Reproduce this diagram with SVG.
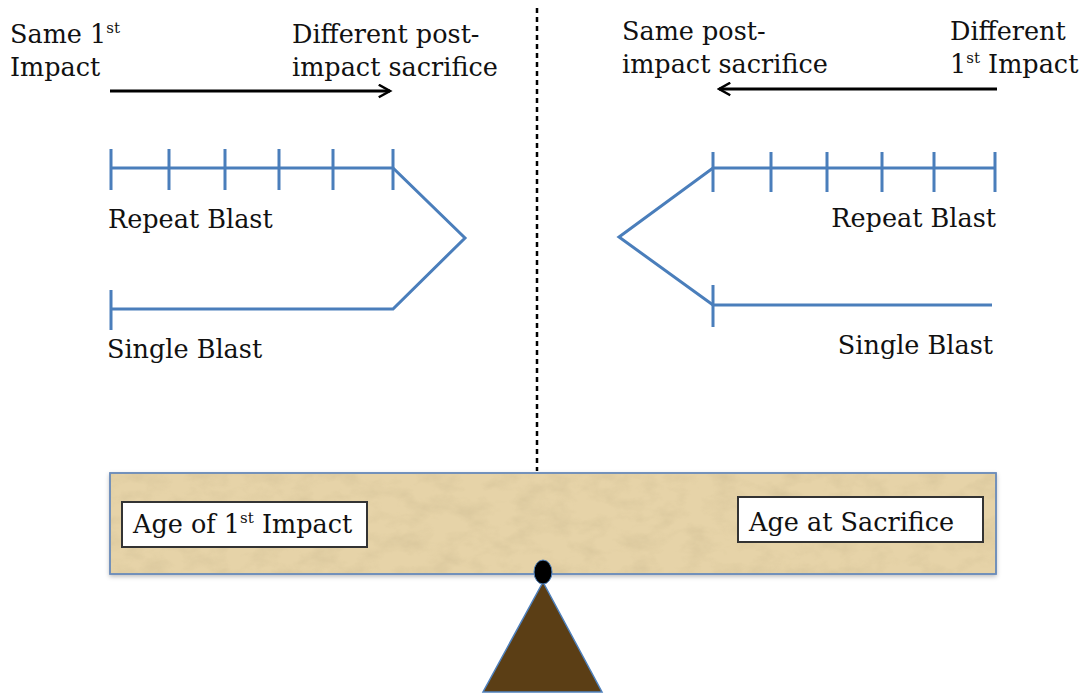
<svg xmlns="http://www.w3.org/2000/svg" width="1087" height="698" viewBox="0 0 1087 698">
  <defs>
    <style>
      .txt { font-family: "DejaVu Serif", "Liberation Serif", serif; font-size: 25.5px; fill: #111; }
      .sup { font-size: 15px; }
      .blast { fill: none; stroke: #4a7ebb; stroke-width: 3; stroke-linejoin: miter; }
      .arrow { stroke: #000; stroke-width: 3; fill: none; }
      .label { fill: #fff; stroke: #333; stroke-width: 2; }
    </style>
    <marker id="head" viewBox="0 0 12 12" refX="10" refY="6" markerWidth="5" markerHeight="5" markerUnits="strokeWidth" orient="auto">
      <path d="M1,1 L10,6 L1,11" fill="none" stroke="#000" stroke-width="2"/>
    </marker>
    <filter id="parchment" x="0" y="0" width="100%" height="100%">
      <feTurbulence type="fractalNoise" baseFrequency="0.035 0.06" numOctaves="4" seed="7" result="noise"/>
      <feColorMatrix in="noise" type="matrix"
        values="0 0 0 0 0.55
                0 0 0 0 0.45
                0 0 0 0 0.25
                0 0 0 1.1 -0.45" result="spots"/>
      <feComposite in="spots" in2="SourceGraphic" operator="in"/>
    </filter>
    <filter id="shadow" x="-5%" y="-20%" width="110%" height="150%">
      <feDropShadow dx="0" dy="2" stdDeviation="2" flood-color="#000" flood-opacity="0.25"/>
    </filter>
  </defs>

  <rect width="1087" height="698" fill="#fff"/>

  <!-- centre divider -->
  <line x1="537" y1="8" x2="537" y2="471" stroke="#000" stroke-width="2.5" stroke-dasharray="5 4"/>

  <!-- left header -->
  <g id="left-header">
    <text class="txt" x="10" y="43">Same 1<tspan class="sup" dy="-10">st</tspan></text>
    <text class="txt" x="10" y="76">Impact</text>
    <text class="txt" x="292" y="43">Different post-</text>
    <text class="txt" x="292" y="76">impact sacrifice</text>
  </g>

  <!-- right header -->
  <g id="right-header">
    <text class="txt" x="622" y="40">Same post-</text>
    <text class="txt" x="622" y="73">impact sacrifice</text>
    <text class="txt" x="950" y="40">Different</text>
    <text class="txt" x="950" y="73">1<tspan class="sup" dy="-10">st</tspan><tspan dy="10"> Impact</tspan></text>
  </g>

  <!-- direction arrows -->
  <g id="connectors">
    <line class="arrow" x1="110" y1="91" x2="390" y2="91" marker-end="url(#head)"/>
    <line class="arrow" x1="997" y1="89" x2="719" y2="89" marker-end="url(#head)"/>
  </g>

  <!-- left blast timelines -->
  <g id="left-timeline">
    <path class="blast" d="M111,168 H393 L465,238 L393,309 H111"/>
    <path class="blast" d="M111,149 V190 M169,149 V190 M225,149 V190 M279,149 V190 M333,149 V190 M393,149 V190 M111,290 V330"/>
    <text class="txt" x="108" y="228">Repeat Blast</text>
    <text class="txt" x="107" y="358">Single Blast</text>
  </g>

  <!-- right blast timelines -->
  <g id="right-timeline">
    <path class="blast" d="M995,168 H713 L619,237 L713,305 H992"/>
    <path class="blast" d="M713,152 V192 M771,152 V192 M827,152 V192 M882,152 V192 M934,152 V192 M995,152 V192 M713,285 V327"/>
    <text class="txt" x="996" y="227" text-anchor="end">Repeat Blast</text>
    <text class="txt" x="993" y="354" text-anchor="end">Single Blast</text>
  </g>

  <!-- balance beam -->
  <g id="beam">
    <rect x="110" y="473" width="886" height="101" fill="#e6d3a8" stroke="#6b8cba" stroke-width="1.5" filter="url(#shadow)"/>
    <rect x="110" y="473" width="886" height="101" fill="#e6d3a8" filter="url(#parchment)" opacity="0.6"/>
    <rect x="110" y="473" width="886" height="101" fill="none" stroke="#6b8cba" stroke-width="1.5"/>
  </g>

  <g id="age-first-impact">
    <rect class="label" x="122" y="502" width="245" height="45"/>
    <text class="txt" x="133" y="533">Age of 1<tspan class="sup" dy="-10">st</tspan><tspan dy="10"> Impact</tspan></text>
  </g>

  <g id="age-at-sacrifice">
    <rect class="label" x="738" y="497" width="245" height="45"/>
    <text class="txt" x="749" y="531">Age at Sacrifice</text>
  </g>

  <!-- fulcrum -->
  <g id="fulcrum">
    <polygon points="543,582 483,692 602,692" fill="#5b3e15" stroke="#4f81bd" stroke-width="1.5"/>
    <ellipse cx="543" cy="572" rx="9" ry="12" fill="#000" stroke="#4f81bd" stroke-width="1"/>
  </g>
</svg>
